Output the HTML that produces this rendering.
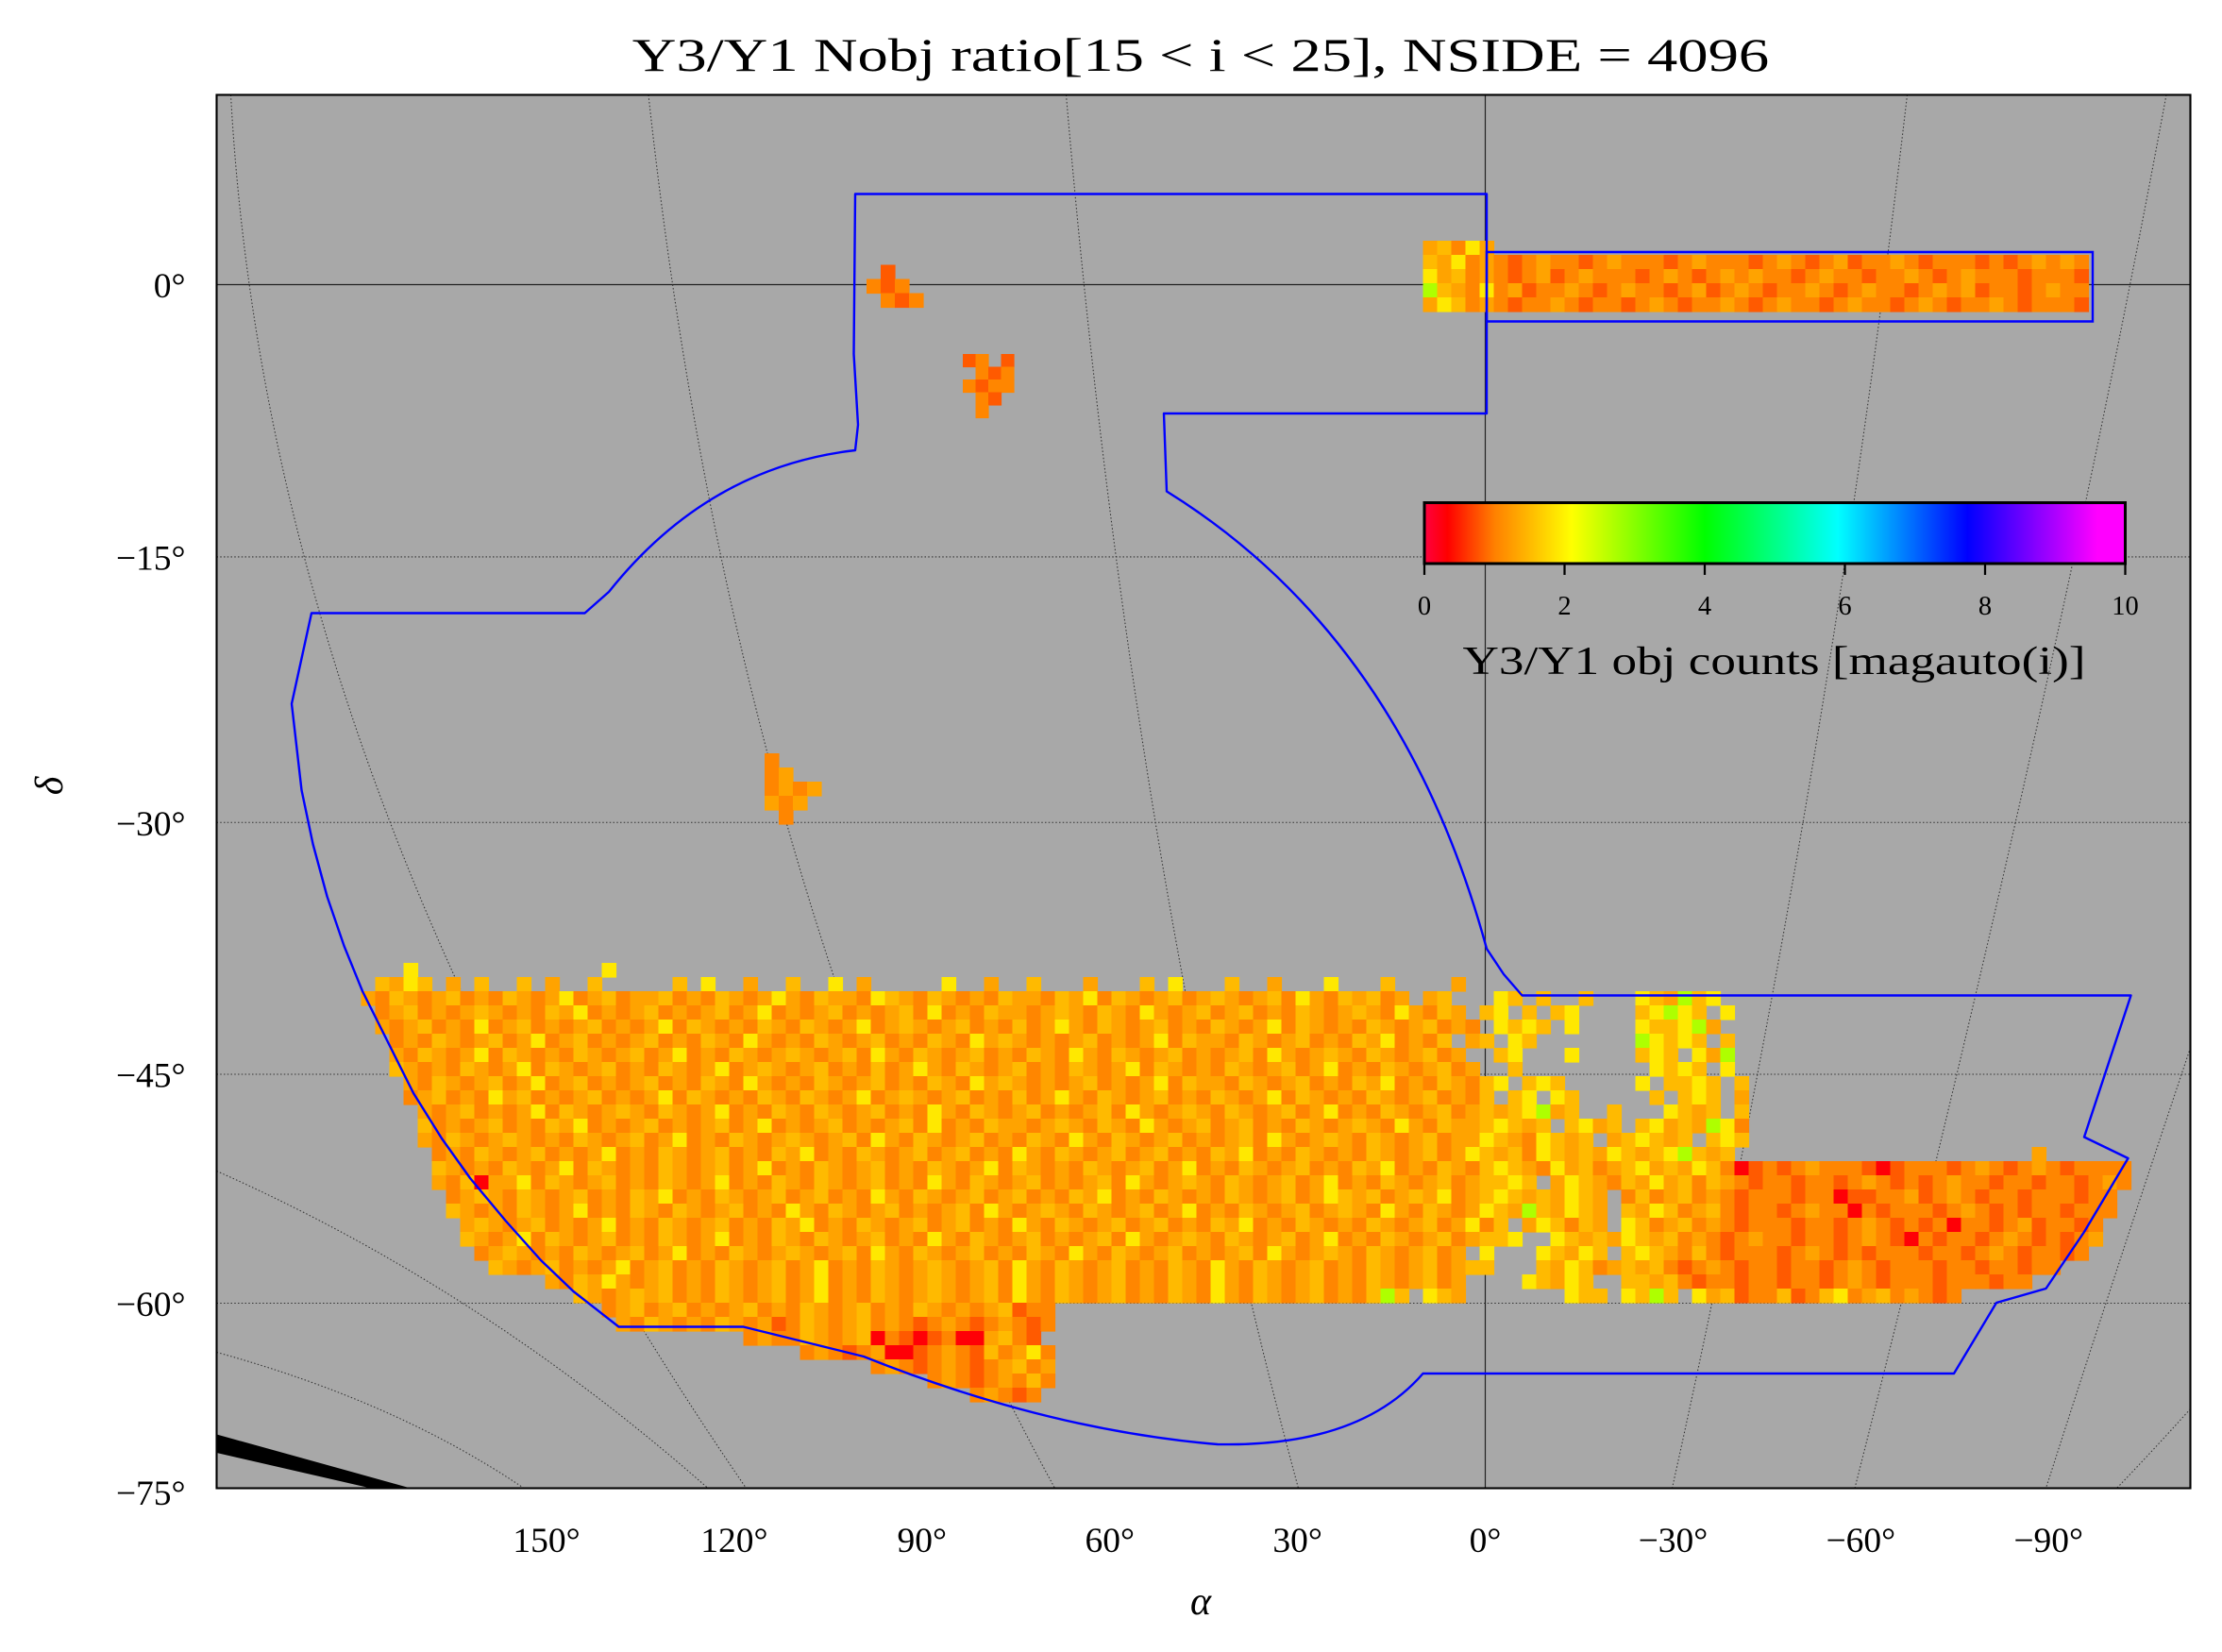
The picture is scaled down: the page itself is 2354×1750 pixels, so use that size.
<!DOCTYPE html>
<html><head><meta charset="utf-8"><title>Y3/Y1 Nobj ratio map</title>
<style>
html,body{margin:0;padding:0;background:#fff;}
svg{display:block;font-family:"Liberation Serif","DejaVu Serif",serif;}
</style></head>
<body>
<svg id="chart" xmlns="http://www.w3.org/2000/svg" width="2354" height="1750" viewBox="0 0 1569.333 1166.667">
  <defs>
    <clipPath id="plotClip"><rect x="153" y="67" width="1394" height="984"/></clipPath>
    <linearGradient id="cmapGrad" x1="0" x2="1" y1="0" y2="0">
      <stop offset="0" stop-color="#ff0040"/>
      <stop offset="0.033" stop-color="#ff0000"/>
      <stop offset="0.10" stop-color="#ff8000"/>
      <stop offset="0.21" stop-color="#ffff00"/>
      <stop offset="0.40" stop-color="#00ff00"/>
      <stop offset="0.59" stop-color="#00ffff"/>
      <stop offset="0.775" stop-color="#0000ff"/>
      <stop offset="0.96" stop-color="#ff00ff"/>
      <stop offset="1" stop-color="#ff00ff"/>
    </linearGradient>
  </defs>
  <rect x="153" y="67" width="1394" height="984" fill="#a8a8a8"/>
  <g id="gridLayer" clip-path="url(#plotClip)"></g>
  <g id="dataLayer" clip-path="url(#plotClip)"></g>
  <g id="outlineLayer" clip-path="url(#plotClip)"></g>
  <rect x="153" y="67" width="1394" height="984" fill="none" stroke="#000" stroke-width="1.4"/>
  <text x="848" y="50" font-size="33" text-anchor="middle" textLength="803" lengthAdjust="spacingAndGlyphs">Y3/Y1 Nobj ratio[15 &lt; i &lt; 25],  NSIDE = 4096</text>
  <text x="848" y="1140" font-size="28" font-style="italic" text-anchor="middle">α</text>
  <text x="44" y="555" font-size="28" font-style="italic" text-anchor="middle" transform="rotate(-90 44 555)">δ</text>
  <g id="axisLayer"></g>
  <g id="colorbarLayer"></g>
</svg>
<script>
// ---------- data ----------
const xTickDegrees = [150, 120, 90, 60, 30, 0, -30, -60, -90];
const xTickLabels = ["150°", "120°", "90°", "60°", "30°", "0°", "−30°", "−60°", "−90°"];
const yTickDegrees = [0, -15, -30, -45, -60, -75];
const yTickLabels = ["0°", "−15°", "−30°", "−45°", "−60°", "−75°"];
const colorbarTicks = [0, 2, 4, 6, 8, 10];
const colorbarTickLabels = ["0", "2", "4", "6", "8", "10"];
const colorbarMin = 0;
const colorbarMax = 10;
// cell value codes (ratio value each letter stands for)
const valueCodes = {r: 0.3, R: 0.8, o: 1.05, O: 1.3, a: 1.5, y: 1.9, g: 2.7, G: 3.6};

// southern wide-field patch, rows top→bottom (spaces are only separators)
const mainRows = [
"...y...... .......y.. .......... .......... .......... .......... .......... .......... .......... .......... .......... .......... .....",
".aOya.O.a. .a.O..a... ..a.y..O.. a..y.O.... .y..O..a.. .O...a.y.. .a..O...y. ..a....O.. .......... .......... .......... .......... .....",
"OoaOoOaoOo aOoOyoOaoO OaoOoaOoOy OoaOOoyaOo aOoOoaOOoa OyoaOoOaoO aOoOaoyOoa OaoO.Oa... ya.a..a... yaOgay.... .......... .......... .....",
".oOaoOoOaO oOoaOyoOoO aoOoOaoOyo OoOaoOoOao yoOoaOOoOa OoaOoyOoOa oOaoOoaOoO aOoyOoaO.a y.a.ay.... aygya.y... .......... .......... .....",
".OoOaoOoyo OaoOoOaoOo OyoaOoOoaO oaOoOyoOaO oOaoOoaoOy OoaOoOaoOo aOoOyoaOoO oaOoOaoOo. yaya.y.... yaaygO.... .......... .......... .....",
"..oOoaOoOa oOyoOaoOoO aoOoaOoyOo OoaOoOaoOo aOoyOaOoOo OaoOoOyoaO OoaOoOaoOo aOyoOoa.Oa .ya....... gyaya.a... .......... .......... .....",
"..OoaOoOyo aOoOoaOoOa oOyoOoaOoO aOoOaoyOoa OoOaoOoaOo yOoaOoOaoO oOaoyOoOaO oaOoOaoO.. ay...y.... aya.yOg... .......... .......... .....",
"..aOoOoaOo OyoaOoOaoO oaOoOyoOaO oOaoOoaoOy OoaOoOaoOo aOoOyoaOoO oaOoOaoOyo OoaOoOaoO. .a........ .yaya.y... .......... .......... .....",
"...OoaOoOa oOyoOaoOoO aoOoaOoyOo OoaOoOaoOo aOoyOaOoOo OaoOoOyoaO OoaOoOaoOo aOyoOoaOoa y.aya..... y.aaya.a.. .......... .......... .....",
"...oOaoOoy OaoOoOaoOo OyoaOoOoaO oaOoOyoOaO oOaoOoaoOy OoaOoOaoOo aOoOyoaOoO oaOoOaoOoa .ay.ya.... .a.aya.O.. .......... .......... .....",
"....OoOaoO oOyoaOoOaO oaOoOyoOoa OoaOoOaoOo yOoaOoOaoO oOaoyOoOaO oaOoOaoOyo OoaOoOaoOa OaygOa..a. ..yaOa.a.. .......... .......... .....",
"....aoOoOa oOoaOyoOoO aoOoOaoOyo OoOaoOoOao yoOoaOOoOa OoaOoyOoOa oOaoOoaOoO aOoyOoaOOa yaOa.ayOa. ayOaOgyo.. .......... .......... .....",
"....OoaOoO aOoOoaOoOa oOyoOoaOoO aOoOaoyOoa OoOaoOoaOo yOoaOoOaoO oOaoyOoOaO oaOoOaoOOy aOoyaOa.Oa yaOa.aya.. .......... .......... .....",
".....oOoaO oOaoOoOyoO oaOoOaoOoa OyoOoaOoOa oOaoOoyOoa OoOaoOaoOo aOyoOoaOoO oaOoOaoOya OaoyaOaOya OaygaOa... .......... ........O. .....",
".....aOoOo aOoOyoaOoO oaOoOaoOyo OoaOoOaoOo aOoOyoaOoO oaOoOaoOyo OoaOoOaoOo aOyoOoaOoa yaOoyOaoOa yOaOyaorRo RoOoooRrRo ooRoOoRoOo Roooo",
".....OoarO OyoaOoOaoO oaOoOyoOoa OoaOoOaoOo yOoaOoOaoO oOaoyOoOaO oaOoOaoOyo OoaOoOaoOa aya.OyaOoa OyOaoaOoRo oRooRoOoRo RoOooRooRo oRoOo",
"......oOaO oaOoOaoOoa OyoOoaOoOa oOaoOoyOoa OoOaoOaoOo aOyoOoaOoO oaOoOaoOya OaoOaOyoOa yaOaOyaO.o aoOaoOoRoo oRoorRRooO RoOoRooRoo oRoo.",
"......aOoO oaOoOyoOoa OoaOoOaoOo yOoaOoOaoO oOaoyOoOaO oaOoOaoOyo OoaOoOaoOa OoyOoaOoOy aOgaOyaO.a OyaoOaoRoo RoOooroRoo oRoOoRoRoo Rooo.",
".......OaO oOaoOoOyoO oaOoOaoOoa OyoOoaOoOa oOaoOoyOoa OoOaoOaoOo aOyoOoaOoO oaOoOaoOyo a.OyaoaO.y aoOaoOoRoo oRooRoOoRo RorooRoORo oRo..",
".......aOo OyoaOoOaoO oaOoOyoOoa OoaOoOaoOo yOoaOoOaoO oOaoyOoOaO oaOoOaoOyo OoaOoOaoOa ay..yaOaOy aOaoOoRoOo oRooRoOoRr oRooRoOoRo RoO..",
"........oO aOoOoaOoOa oOyoOoaOoO aOoOaoyOoa OoOaoOoaOo yOoaOoOaoO oOaoyOoOaO oaOoOaoO.y ...yaOya.a yaOoaoRooo RoOoRoRooo RooRoOoRoo Ro...",
".........a OoOaoOoOyo OaoOoaOoOa oOyoOoaOoO aOoOaoyOoa OoOaoOoaOo yOoaOoOaoO oaOoOaoOaa ...aOyaoOa OaoRoOoRoo RooRoOoRoo oRooRooRoo .....",
".......... ...OoaOyOo OaoOoaOoOa oOyoOoaOoO aOoOaoyOoa OoOaoOoaOo yOoaOoOaoO oaOoOaoO.. ..yaOya..a aOaoRooRoo RooRoOoRoo oRoooRoo.. .....",
".......... .....aOoOa OaoOoaOoOa oOyoOoaOoO aOoOaoyOoa OoOaoOoaOo yOoaOoOaoO oaga.yaO.. .....yaa.y aga.yOaRoo aRoayoOaoO oRo....... .....",
".......... .......oOa oOaoOoOaoO oaOoOaoOoa OoOoOaRoo. .......... .......... .......... .......... .......... .......... .......... .....",
".......... ........Oo aOoOoaOoOR oaOoOaoOoR oOoRoOoRo. .......... .......... .......... .......... .......... .......... .......... .....",
".......... .......... .......oOo oaOoOaroRr RorrOaoR.. .......... .......... .......... .......... .......... .......... .......... .....",
".......... .......... .......... .oOoRoOrrR oOoRaoOyo. .......... .......... .......... .......... .......... .......... .......... .....",
".......... .......... .......... ......oOoR oOoRoOaoO. .......... .......... .......... .......... .......... .......... .......... .....",
".......... .......... .......... .......... oOoRoOoao. .......... .......... .......... .......... .......... .......... .......... .....",
".......... .......... .......... .......... ...oOoRo.. .......... .......... .......... .......... .......... .......... .......... ....."
];
// equatorial stripe patch
const stripeRows = [
"OaoyO",
"aOyoOoRoOo oRoOoooRoO oooRoOoRoO RooOoRoooR oRoOoOo",
"yOaoOoRoOR oOoooRoOoR oOoOooRoOo oRooOoRoOo ooRoooR",
"gaOoyoORoo OoRoOooRoO RoOoRooOoR oOooRoOoOR ooRoOoo",
"OyaoOoRooO oRooRoOoRo oOoRoOooRo OooRoOoRoo OoRoooR"
];
const blobARows = [".R..", "oRo.", ".oRo"];
const blobBRows = ["Ro.R", ".oRo", "oRoo", ".oR.", ".o.."];
const blobCRows = ["o...", "oO..", "oOoO", "OoO.", ".o.."];

// ---------- layout (positions, not data) ----------
const patchLayout = {
  main:   {x: 255, y: 680, cell: 10},
  stripe: {x: 1005, y: 170, cell: 10},
  blobA:  {x: 612, y: 187, cell: 10},
  blobB:  {x: 680, y: 250, cell: 9},
  blobC:  {x: 540, y: 532, cell: 10}
};

// ---------- axis functions ----------
function psiOf(decDeg) {
  const phi = decDeg * Math.PI / 180;
  const k = (1 + Math.SQRT2 / 2) * Math.sin(phi);
  let psi = phi;
  for (let i = 0; i < 60; i++) {
    const f = Math.sin(psi / 2) + Math.sin(psi) - k;
    const d = 0.5 * Math.cos(psi / 2) + Math.cos(psi);
    psi -= f / d;
  }
  return psi;
}
function yOfDec(dec) { return 201 - 1296 * Math.sin(psiOf(dec) / 2); }
function xOfRaBottom(ra) { return 1049 - 4.42 * ra; }
function cbX(v) { return 1006 + (v - colorbarMin) / (colorbarMax - colorbarMin) * (1501 - 1006); }

const cmapStops = [[0,[255,0,64]],[0.33,[255,0,0]],[1.0,[255,128,0]],[2.1,[255,255,0]],[4,[0,255,0]],[5.9,[0,255,255]],[7.75,[0,0,255]],[9.6,[255,0,255]],[10,[255,0,255]]];
function colorOf(v) {
  v = Math.max(colorbarMin, Math.min(colorbarMax, v));
  for (let i = 0; i < cmapStops.length - 1; i++) {
    const [a, ca] = cmapStops[i], [b, cb] = cmapStops[i + 1];
    if (v <= b) {
      const t = (v - a) / (b - a);
      const c = ca.map((x, j) => Math.round(x + (cb[j] - x) * t));
      return `rgb(${c[0]},${c[1]},${c[2]})`;
    }
  }
  return "rgb(255,0,255)";
}

const NS = "http://www.w3.org/2000/svg";
function mk(tag, attrs, parent) {
  const el = document.createElementNS(NS, tag);
  for (const k in attrs) el.setAttribute(k, attrs[k]);
  parent.appendChild(el);
  return el;
}

// ---------- grid ----------
const gridLayer = document.getElementById("gridLayer");
yTickDegrees.forEach((d, i) => {
  const y = yOfDec(d);
  const ln = mk("line", {x1: 153, x2: 1547, y1: y, y2: y, stroke: d === 0 ? "#222" : "#333", "stroke-width": d === 0 ? 0.8 : 0.7, "stroke-dasharray": d === 0 ? "none" : "1 1.5"}, gridLayer);
  
  
});
const mer0 = mk("line", {x1: 1049, x2: 1049, y1: 67, y2: 1051, stroke: "#222", "stroke-width": 0.8}, gridLayer);


const curvedGrid = [
  "M163,67 Q190,560 527,1051",
  "M458,67 Q520,640 745,1051",
  "M753,67 Q800,620 917,1051",
  "M1347,67 Q1290,560 1181,1051",
  "M1530,67 Q1450,500 1310,1051",
  "M1547,740 Q1500,880 1445,1051",
  "M153,827 Q340,910 500,1051",
  "M153,955 Q280,990 370,1051",
  "M1547,995 Q1520,1025 1495,1051"
];
curvedGrid.forEach(d => {
  const p = mk("path", {d: d, fill: "none", stroke: "#333", "stroke-width": 0.7, "stroke-dasharray": "1 1.5"}, gridLayer);
  
  
});
const band = mk("polygon", {points: "153,1013 290,1051 262,1051 153,1026", fill: "#000"}, gridLayer);



// ---------- data cells ----------
const dataLayer = document.getElementById("dataLayer");
function drawPatch(rows, lay, name) {
  const g = mk("g", {}, dataLayer);
  
  
  rows.forEach((row, ri) => {
    const s = row.replace(/ /g, "");
    for (let ci = 0; ci < s.length; ci++) {
      const ch = s[ci];
      if (!(ch in valueCodes)) continue;
      const r = mk("rect", {x: lay.x + ci * lay.cell, y: lay.y + ri * lay.cell, width: lay.cell + 0.4, height: lay.cell + 0.4, fill: colorOf(valueCodes[ch])}, g);
      
      
    }
  });
}
drawPatch(mainRows, patchLayout.main, "southern-footprint-cells");
drawPatch(stripeRows, patchLayout.stripe, "equatorial-stripe-cells");
drawPatch(blobARows, patchLayout.blobA, "small-field-a-cells");
drawPatch(blobBRows, patchLayout.blobB, "small-field-b-cells");
drawPatch(blobCRows, patchLayout.blobC, "small-field-c-cells");

// ---------- footprint outline ----------
const outlineLayer = document.getElementById("outlineLayer");
const outline = mk("path", {d:
  "M604,137 L1050,137 L1050,292 L822,292 L824,347 Q990,450 1050,670 L1062,688 L1075,703 L1505,703 L1472,803 L1503,818 L1472,870 L1445,910 L1410,920 L1380,970 L1005,970 Q960,1022 860,1020 Q740,1010 610,958 L525,937 L437,937 L405,912 L382,890 L357,862 L332,832 L312,804 L292,772 L276,740 L256,700 L243,668 L231,633 L221,596 L213,558 L206,497 L220,433 L413,433 L430,418 Q500,330 604,318 L606,300 L603,250 Z",
  fill: "none", stroke: "#0000ff", "stroke-width": 1.6, "stroke-linejoin": "round"}, outlineLayer);


const stripeBox = mk("polygon", {points: "1050,178 1478,178 1478,227 1050,227", fill: "none", stroke: "#0000ff", "stroke-width": 1.6}, outlineLayer);



// ---------- axis labels ----------
const axisLayer = document.getElementById("axisLayer");
yTickDegrees.forEach((d, i) => {
  const t = mk("text", {x: 131, y: yOfDec(d) + 9, "font-size": 25, "text-anchor": "end"}, axisLayer);
  t.textContent = yTickLabels[i];
  
  
});
xTickDegrees.forEach((d, i) => {
  const t = mk("text", {x: xOfRaBottom(d), y: 1096, "font-size": 25, "text-anchor": "middle"}, axisLayer);
  t.textContent = xTickLabels[i];
  
  
});

// ---------- colorbar ----------
const cbLayer = document.getElementById("colorbarLayer");
const cbRect = mk("rect", {x: cbX(colorbarMin), y: 355, width: cbX(colorbarMax) - cbX(colorbarMin), height: 43, fill: "url(#cmapGrad)", stroke: "#000", "stroke-width": 2}, cbLayer);


colorbarTicks.forEach((v, i) => {
  const tk = mk("line", {x1: cbX(v), x2: cbX(v), y1: 398, y2: 406, stroke: "#000", "stroke-width": 1.5}, cbLayer);
  
  
  const tl = mk("text", {x: cbX(v), y: 434, "font-size": 19, "text-anchor": "middle"}, cbLayer);
  tl.textContent = colorbarTickLabels[i];
  
  
});
const cbTitle = mk("text", {x: 1253, y: 476, "font-size": 28, "text-anchor": "middle", textLength: 440, lengthAdjust: "spacingAndGlyphs"}, cbLayer);
cbTitle.textContent = "Y3/Y1 obj counts [magauto(i)]";


</script>
</body></html>
